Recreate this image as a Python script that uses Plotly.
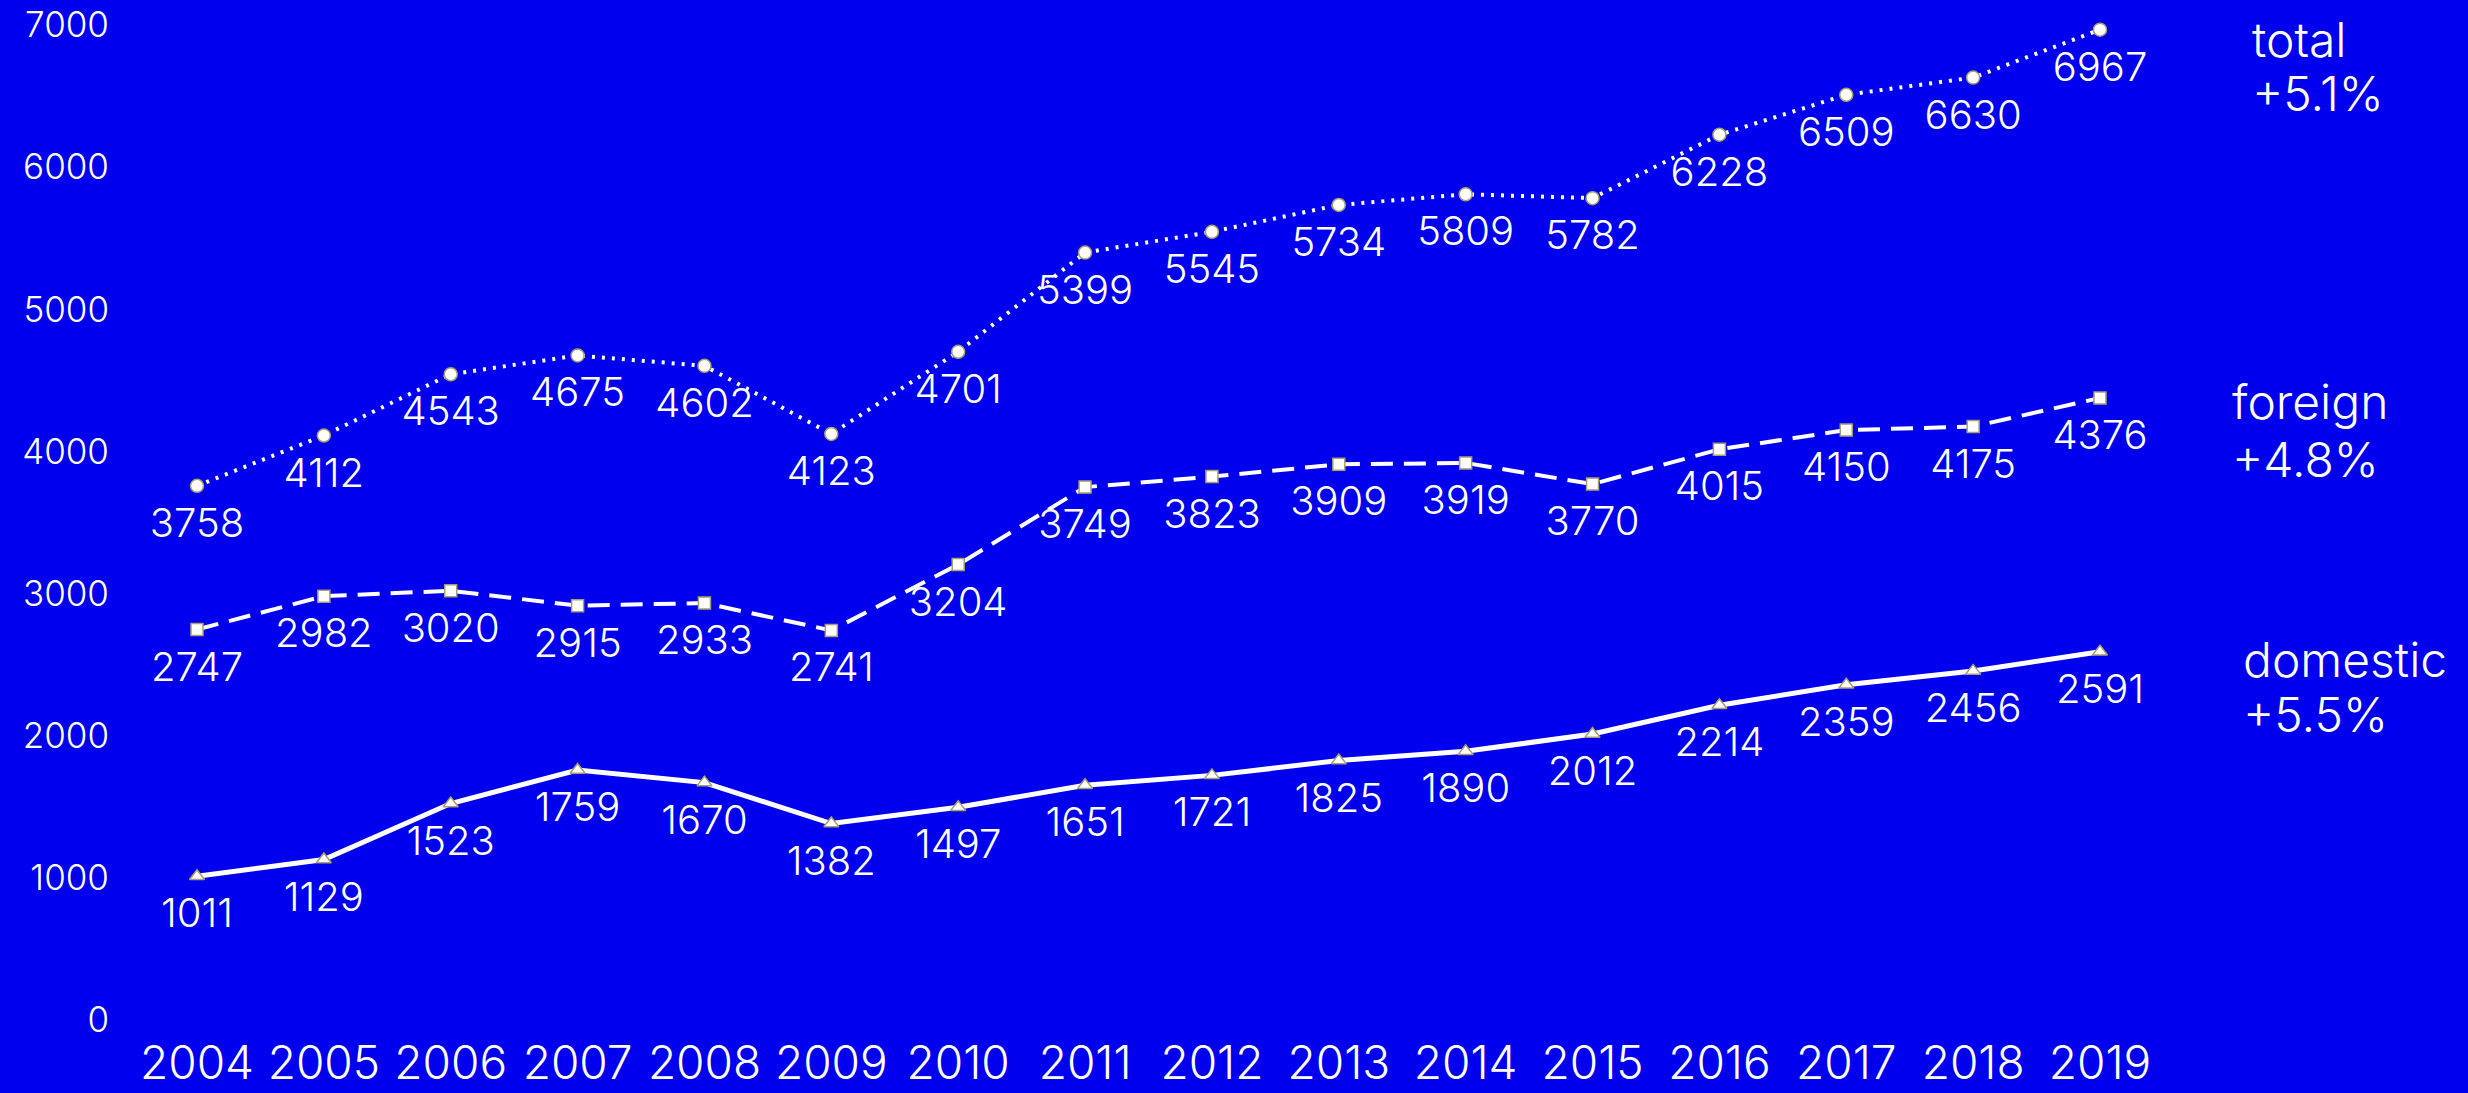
import plotly.graph_objects as go

years = list(range(2004, 2020))
total = [3758, 4112, 4543, 4675, 4602, 4123, 4701, 5399, 5545, 5734, 5809, 5782, 6228, 6509, 6630, 6967]
foreign = [2747, 2982, 3020, 2915, 2933, 2741, 3204, 3749, 3823, 3909, 3919, 3770, 4015, 4150, 4175, 4376]
domestic = [1011, 1129, 1523, 1759, 1670, 1382, 1497, 1651, 1721, 1825, 1890, 2012, 2214, 2359, 2456, 2591]
series_names = ["total", "foreign", "domestic"]
growth_labels = ["+5.1%", "+4.8%", "+5.5%"]
y_ticks = [0, 1000, 2000, 3000, 4000, 5000, 6000, 7000]

BG = "#0000EE"
FONT = "Inter"
W, H = 2468, 1093
L, R, T, B = 110, 2200, 25, 1020
px_per_year = (2100 - 197) / 15.0
x0 = 2004 - (197 - L) / px_per_year
x1 = 2019 + (R - 2100) / px_per_year

fig = go.Figure()

styles = [
    (total, "circle", 13, dict(dash="3px,7px", width=4)),
    (foreign, "square", 12, dict(dash="22px,11px", width=4)),
    (domestic, "triangle-up", 13, dict(width=5)),
]
for name, (vals, sym, msize, line) in zip(series_names, styles):
    fig.add_trace(go.Scatter(
        x=years, y=vals, mode="lines+markers", name=name,
        line=dict(color="white", **line),
        marker=dict(symbol=sym, size=msize, color="white",
                    line=dict(color="#a89e6e", width=1.5)),
        cliponaxis=False, hoverinfo="skip", showlegend=False,
    ))
for name, (vals, sym, msize, line) in zip(series_names, styles):
    fig.add_trace(go.Scatter(
        x=years, y=vals, mode="markers+text", name=name + " labels",
        text=[str(v) for v in vals], textposition="bottom center",
        textfont=dict(family=FONT, size=40, color="white", weight=300),
        marker=dict(size=32, color="rgba(0,0,0,0)"),
        cliponaxis=False, hoverinfo="skip", showlegend=False,
    ))

def px2paper_x(px):
    return (px - L) / (R - L)

def px2paper_y(py):
    return (B - py) / (B - T)

ann_pos = [(2250, 39, 94), (2230, 401, 459), (2241, 659, 714)]
annotations = []
for name, g, (ax, y1, y2) in zip(series_names, growth_labels, ann_pos):
    for txt, yy in ((name, y1), (g, y2)):
        annotations.append(dict(
            text=txt, xref="paper", yref="paper",
            x=px2paper_x(ax), y=px2paper_y(yy),
            xanchor="left", yanchor="middle", showarrow=False,
            font=dict(family=FONT, size=48, color="white", weight=300),
        ))

fig.update_layout(
    width=W, height=H,
    margin=dict(l=L, r=W - R, t=T, b=H - B, pad=0, autoexpand=False),
    paper_bgcolor=BG, plot_bgcolor=BG,
    font=dict(family=FONT, color="white"),
    annotations=annotations,
    xaxis=dict(range=[x0, x1], tickmode="array", tickvals=years,
               ticktext=[str(y) for y in years], showgrid=False,
               zeroline=False, showline=False, ticks="", automargin=False,
               ticklabelstandoff=12,
               tickfont=dict(family=FONT, size=46, color="white", weight=300)),
    yaxis=dict(range=[0, 7000], tickmode="array", tickvals=y_ticks,
               ticktext=[str(v) for v in y_ticks], showgrid=False,
               zeroline=False, showline=False, ticks="", automargin=False,
               tickfont=dict(family=FONT, size=35, color="white", weight=300)),
)

fig.write_html(
    "out.html",
    config={"displayModeBar": False},
    post_script="document.body.style.margin='0';document.body.style.background='%s';" % BG,
)
